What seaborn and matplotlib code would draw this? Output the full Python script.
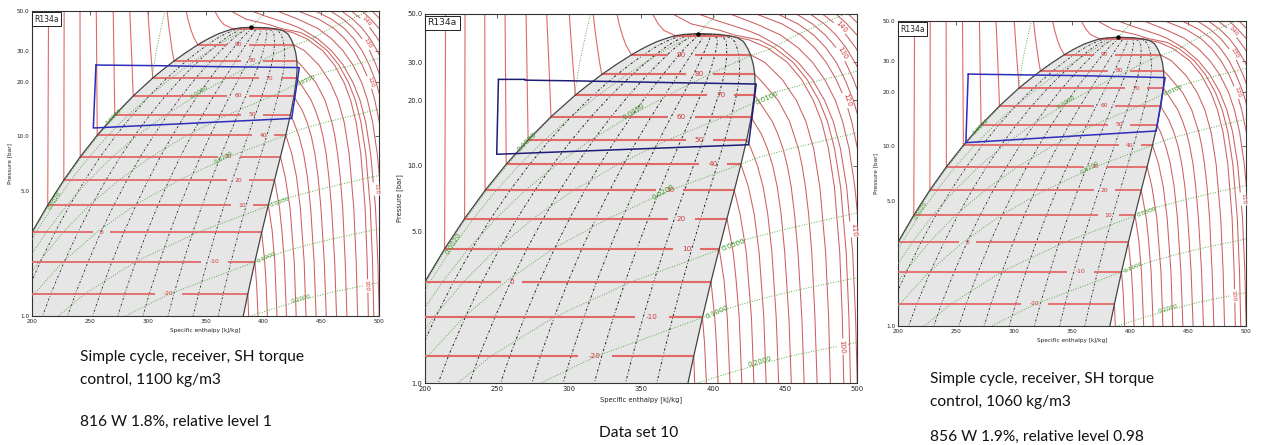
import matplotlib
matplotlib.use("Agg")
import matplotlib.pyplot as plt
import matplotlib.ticker as mticker
import numpy as np
import pandas as pd
import seaborn as sns

sns.set_style("white")
plt.rcParams['font.family'] = ['DejaVu Sans']

# ---------------- data: R134a saturation table ----------------
SAT_T = [-30, -20, -10, 0, 10, 20, 30, 40, 50, 60, 70, 75, 80, 85, 90, 93, 95, 97, 99, 100, 100.7, 101.06]
SAT_P = [0.844, 1.327, 2.006, 2.928, 4.146, 5.717, 7.702, 10.166, 13.18, 16.82, 21.17, 23.65, 26.33, 29.26,
         32.44, 34.5, 35.9, 37.4, 38.9, 39.72, 40.3, 40.59]
SAT_HL = [161.1, 173.6, 186.7, 200.0, 213.6, 227.5, 241.7, 256.4, 271.6, 287.5, 304.4, 313.5, 322.8, 332.8,
          343.4, 350.5, 355.6, 361.5, 369.0, 373.9, 380.5, 389.6]
SAT_HV = [380.3, 386.6, 392.7, 398.6, 404.3, 409.7, 414.8, 419.4, 423.4, 426.6, 428.7, 429.2, 429.0, 428.0,
          426.1, 424.3, 422.8, 421.0, 417.0, 411.0, 403.5, 389.6]
SAT_VL = [0.000720, 0.000736, 0.000755, 0.000772, 0.000794, 0.000817, 0.000843, 0.000873, 0.000908, 0.000951,
          0.001004, 0.001036, 0.001073, 0.001118, 0.001174, 0.001216, 0.001250, 0.001294, 0.001360, 0.001413,
          0.00155, 0.00195]
SAT_VG = [0.2259, 0.1464, 0.0994, 0.0689, 0.0494, 0.0359, 0.0267, 0.0200, 0.0151, 0.0114, 0.00871, 0.00763,
          0.00665, 0.00577, 0.00496, 0.00450, 0.00420, 0.00386, 0.00345, 0.00318, 0.00265, 0.00195]

QUALITIES = [0.1, 0.2, 0.3, 0.4, 0.5, 0.6, 0.7, 0.8, 0.9]
DOME_T = [-20, -10, 0, 10, 20, 30, 40, 50, 60, 70, 80, 90, 100]

# isotherms in the liquid region (pressure [bar], enthalpy [kJ/kg])
LIQ_T = {
    0: ([2.928, 50], [200.0, 200.0]),
    10: ([4.146, 50], [213.6, 214.3]),
    20: ([5.717, 50], [227.5, 227.8]),
    30: ([7.702, 50], [241.7, 241.5]),
    40: ([10.166, 50], [256.4, 255.6]),
    50: ([13.18, 50], [271.6, 270.2]),
    60: ([16.82, 30, 50], [287.5, 286.0, 284.5]),
    70: ([21.17, 30, 40, 50], [304.4, 302.6, 301.2, 300.2]),
    80: ([26.33, 30, 40, 50], [322.8, 321.2, 318.5, 316.8]),
    90: ([32.44, 36, 40, 45, 50], [343.4, 339.5, 337.0, 334.8, 333.3]),
    100: ([39.72, 42, 45, 50], [373.9, 366.0, 362.0, 358.0]),
}
# isotherms in the vapour / supercritical region
VAP_T = {
    -20: ([1.327, 1.0, 0.9], [386.6, 387.3, 387.6]),
    -10: ([2.006, 1.5, 1.0, 0.9], [392.7, 394.2, 395.4, 395.6]),
    0: ([2.928, 2.0, 1.5, 1.0, 0.9], [398.6, 401.2, 402.4, 403.5, 403.7]),
    10: ([4.146, 3.0, 2.0, 1.0, 0.9], [404.3, 407.6, 409.9, 411.8, 412.0]),
    20: ([5.717, 4.0, 3.0, 2.0, 1.0, 0.9], [409.7, 414.0, 416.0, 418.2, 420.0, 420.2]),
    30: ([7.702, 6.0, 4.0, 2.0, 1.0, 0.9], [414.8, 418.8, 423.1, 426.7, 428.4, 428.6]),
    40: ([10.166, 8.0, 6.0, 4.0, 2.0, 1.0, 0.9], [419.4, 424.6, 428.6, 432.0, 435.3, 436.9, 437.1]),
    50: ([13.18, 12, 10, 8, 6, 4, 2, 1, 0.9], [423.4, 426.4, 430.9, 434.8, 438.0, 440.9, 443.9, 445.6, 445.8]),
    60: ([16.82, 16, 14, 12, 10, 8, 6, 4, 2, 1, 0.9],
         [426.6, 428.2, 433.6, 437.8, 441.5, 444.6, 447.3, 449.8, 452.7, 454.4, 454.6]),
    70: ([21.17, 20, 16, 14, 12, 10, 8, 6, 4, 2, 1, 0.9],
         [428.7, 431.5, 441.2, 445.0, 448.6, 451.6, 454.3, 456.6, 459.0, 461.7, 463.3, 463.5]),
    80: ([26.33, 25, 20, 16, 12, 10, 8, 6, 4, 2, 1, 0.9],
         [429.0, 432.5, 445.3, 453.2, 459.3, 461.9, 464.2, 466.4, 468.6, 470.8, 472.3, 472.5]),
    90: ([32.44, 30, 25, 20, 16, 12, 8, 4, 2, 1, 0.9],
         [426.1, 435.8, 448.0, 457.9, 464.5, 469.9, 474.2, 478.2, 480.3, 481.5, 481.7]),
    100: ([39.72, 38, 35, 30, 25, 20, 16, 12, 8, 4, 2, 1, 0.9],
          [411.0, 425.0, 437.5, 451.5, 461.5, 469.7, 475.4, 480.2, 484.3, 488.0, 489.8, 490.8, 491.0]),
    105: ([50, 45, 42, 40, 38, 35, 30, 25, 20, 16, 12, 8, 4, 2, 1, 0.9],
          [372, 385, 405, 415, 432, 442.5, 455.5, 465.3, 473.6, 479.5, 484.4, 488.6, 492.5, 494.4, 495.5, 495.7]),
    110: ([50, 47, 45, 42, 40, 37, 35, 30, 25, 20, 16, 12, 8, 4, 2, 1, 0.9],
          [390, 401, 410, 424, 432, 441, 447, 459, 469, 477.5, 483.5, 488.5, 492.8, 497.0, 499.0, 500.2, 500.4]),
    115: ([50, 45, 40, 35, 30, 25, 20, 16, 12, 8, 5],
          [412, 430, 447, 459, 469, 477.5, 485, 490, 494.5, 498.5, 501.5]),
    120: ([50, 45, 40, 35, 30, 25, 20, 16, 12, 10], [430, 448, 461, 470.5, 478.5, 485.5, 492, 496.3, 500.3, 502.3]),
    125: ([50, 45, 40, 35, 30, 25, 20, 16], [445, 459, 470, 478.3, 485.5, 491.6, 497.5, 501.7]),
    130: ([50, 45, 40, 35, 30, 25, 20], [458, 469, 478, 485.5, 492, 497.5, 503]),
    135: ([50, 45, 40, 35, 30, 27], [467.5, 477.3, 485.5, 492.3, 498.5, 502]),
    140: ([50, 45, 40, 35, 30], [476, 485, 492.5, 499, 505]),
    145: ([50, 45, 40, 38], [485.3, 493, 500, 503]),
    150: ([50, 45, 40], [494, 501, 507]),
}
# isochores outside the dome (v [m3/kg]: pressures, enthalpies)
ISOCHORES = [0.001, 0.002, 0.005, 0.01, 0.02, 0.05, 0.1, 0.2]
ISO_OUT = {
    0.001: ([21.0, 30, 40, 50], [303.7, 307.5, 311.5, 315.0]),
    0.002: ([40.59, 45, 50], [389.6, 396.0, 402.7]),
    0.005: ([32.2, 34, 36, 40, 45, 50], [426.3, 437, 445, 458, 475, 492]),
    0.01: ([19.5, 20, 21, 22, 24, 26, 27.6], [428, 431.5, 437, 445, 466, 488, 503]),
    0.02: ([10.17, 10.5, 11, 12, 13, 14, 14.4], [419.4, 424.5, 433, 454, 476, 496, 503]),
    0.05: ([4.1, 4.3, 4.6, 5.0, 5.4, 5.8, 6.1], [404, 408.5, 424, 445, 466, 486.5, 502]),
    0.1: ([2.0, 2.1, 2.3, 2.5, 2.7, 2.9, 3.1], [392.7, 401, 419.5, 439.7, 461, 483, 505]),
    0.2: ([0.96, 1.0, 1.1, 1.23, 1.35, 1.5, 1.56], [382.2, 389, 409, 434, 458, 492, 505]),
}
CRIT_H, CRIT_P = 389.6, 40.59

# label positions (enthalpy) of the isotherm labels inside the dome
DOME_LABEL_H = {90: 378, 80: 390.5, 70: 405.5, 60: 378, 50: 390.5, 40: 400, 30: 370, 20: 378,
                10: 381.5, 0: 260, -10: 357.5, -20: 318}
VAP_LABELS = [(100, 489, 1.47, -86), (110, 497.5, 5.1, -86), (120, 493, 20.1, -72),
              (130, 490, 33, -60), (140, 489, 43.7, -48)]
ISO_LABELS = [("0.0020", 219.7, 4.39, 58), ("0.0020", 271.0, 12.9, 45), ("0.0050", 344.8, 17.7, 33),
              ("0.0100", 437.4, 20.4, 24), ("0.0200", 365.6, 7.6, 30), ("0.0500", 414.3, 4.31, 20),
              ("0.1000", 402.7, 2.12, 24), ("0.2000", 432.8, 1.25, 16)]

# cycles (enthalpy, pressure) for the three cases
CYC1_H = [255.3, 309.2, 358.2, 431.1, 424.5, 253.0, 255.3]
CYC1_P = [25.0, 24.8, 24.5, 24.2, 12.6, 11.15, 25.0]
CYC2_H = [251.0, 269.5, 269.5, 305.4, 379.5, 430.0, 424.7, 249.8, 251.0]
CYC2_P = [25.0, 25.0, 24.8, 24.6, 24.1, 23.8, 12.5, 11.3, 25.0]
CYC3_H = [260.5, 358.4, 430.3, 422.6, 258.5, 260.5]
CYC3_P = [25.3, 24.8, 24.2, 12.2, 10.5, 25.3]

CAPTIONS = [
    ["Simple cycle, receiver, SH torque", "control, 1100 kg/m3", "816 W 1.8%, relative level 1"],
    ["Data set 10"],
    ["Simple cycle, receiver, SH torque", "control, 1060 kg/m3", "856 W 1.9%, relative level 0.98"],
]
YTICKS = [1.0, 5.0, 10.0, 20.0, 30.0, 50.0]
XTICKS = [200, 250, 300, 350, 400, 450, 500]

# ---------------- drawing ----------------
W, H = 1261, 445
fig = plt.figure(figsize=(W / 100, H / 100), dpi=100)

RED_DOME = '#e26868'
RED_THIN = '#cc6060'
RED_TXT = '#d03a3a'
GREEN = '#5aaa4a'
GREEN_TXT = '#3f9a2f'
DOME_FILL = '#e6e6e6'

sat = pd.DataFrame({'T': SAT_T, 'p': SAT_P, 'hl': SAT_HL, 'hv': SAT_HV, 'vl': SAT_VL, 'vg': SAT_VG})


def draw_panel(ax, cyc_h, cyc_p, cyc_color, s):
    ax.set_yscale('log')
    ax.set_xlim(200, 500)
    ax.set_ylim(1.0, 50.0)

    # dome fill
    dome_h = list(sat['hl']) + list(sat['hv'][::-1])
    dome_p = list(sat['p']) + list(sat['p'][::-1])
    ax.fill(dome_h, dome_p, color=DOME_FILL, zorder=1, lw=0)

    # quality lines
    for q in QUALITIES:
        hq = sat['hl'] + q * (sat['hv'] - sat['hl'])
        ax.plot(hq, sat['p'], color='#222222', lw=0.6 * s + 0.1,
                ls=(0, (2.5, 2.0, 0.8, 2.0)), zorder=3)

    # isochores
    for v in ISOCHORES:
        x = (v - sat['vl']) / (sat['vg'] - sat['vl'])
        m = (x >= 0) & (x <= 1)
        hin = list(sat['hl'][m] + x[m] * (sat['hv'][m] - sat['hl'][m]))
        pin = list(sat['p'][m])
        po, ho = ISO_OUT[v]
        if v in (0.001,):
            ax.plot(hin, pin, color=GREEN, lw=0.7, ls=(0, (1, 1.6)), zorder=3)
            ax.plot(ho, po, color=GREEN, lw=0.7, ls=(0, (1, 1.6)), zorder=3)
        else:
            ax.plot(hin + list(ho), pin + list(po), color=GREEN, lw=0.7, ls=(0, (1, 1.6)), zorder=3)

    # isotherms inside dome (with label gaps)
    for t in DOME_T:
        r = sat[sat['T'] == t].iloc[0]
        if t in DOME_LABEL_H:
            lab = str(t)
            hc = DOME_LABEL_H[t]
            half = 2.2 * len(lab) + 5
            ax.plot([r['hl'], hc - half], [r['p'], r['p']], color=RED_DOME, lw=1.3 * s + 0.2, zorder=4,
                    solid_capstyle='butt')
            ax.plot([hc + half, r['hv']], [r['p'], r['p']], color=RED_DOME, lw=1.3 * s + 0.2, zorder=4,
                    solid_capstyle='butt')
            ax.text(hc, r['p'], lab, color=RED_TXT, fontsize=5.2 * s, ha='center', va='center', zorder=6)
        else:
            ax.plot([r['hl'], r['hv']], [r['p'], r['p']], color=RED_DOME, lw=1.3 * s + 0.2, zorder=4)

    # liquid isotherms
    for t, (pp, hh) in LIQ_T.items():
        ax.plot(hh, pp, color=RED_DOME, lw=0.8, zorder=2)
    # vapour / supercritical isotherms
    for t, (pp, hh) in VAP_T.items():
        ax.plot(hh, pp, color=RED_THIN, lw=0.75, zorder=2)
    for t, hx, px, rot in VAP_LABELS:
        ax.text(hx, px, str(t), color=RED_TXT, fontsize=5.2 * s, ha='center', va='center', rotation=rot,
                zorder=6, bbox=dict(boxstyle='square,pad=0.15', fc='white', ec='none'))

    # isochore labels
    for lab, hx, px, rot in ISO_LABELS:
        ax.text(hx, px, lab, color=GREEN_TXT, fontsize=5.0 * s, ha='center', va='center', rotation=rot,
                zorder=6)

    # dome outline
    ax.plot(dome_h, dome_p, color='#444444', lw=0.9, zorder=5)
    ax.plot([CRIT_H], [CRIT_P], marker='o', ms=2.2, color='black', zorder=7)

    # cycle
    cyc = pd.DataFrame({'h': cyc_h, 'p': cyc_p, 'order': range(len(cyc_h))})
    sns.lineplot(data=cyc, x='h', y='p', sort=False, estimator=None, color=cyc_color, lw=1.1,
                 ax=ax, zorder=8, legend=False)

    # R134a box
    ax.text(0.006, 0.988, 'R134a', transform=ax.transAxes, ha='left', va='top', fontsize=6.6 * s,
            color='#222222', zorder=9,
            bbox=dict(boxstyle='square,pad=0.3', fc='white', ec='#222222', lw=0.7))

    ax.set_yticks(YTICKS)
    ax.yaxis.set_major_formatter(mticker.FixedFormatter(['%.1f' % v for v in YTICKS]))
    ax.yaxis.set_minor_locator(mticker.NullLocator())
    ax.set_xticks(XTICKS)
    ax.set_xticklabels([str(v) for v in XTICKS])
    ax.tick_params(axis='both', which='major', direction='in', length=3, width=0.5, top=True, right=True,
                   labelsize=4.9 * s, pad=2, colors='#222222')
    ax.set_xlabel('Specific enthalpy [kJ/kg]', fontsize=4.9 * s, labelpad=3, color='#222222')
    ax.set_ylabel('Pressure [bar]', fontsize=4.9 * s, labelpad=3, color='#222222')
    for sp in ax.spines.values():
        sp.set_color('#333333')
        sp.set_linewidth(0.8)
        sp.set_visible(True)
    ax.grid(False)


PANELS = [(32, 11, 379, 316), (425, 14, 857, 383), (898, 21, 1246, 326)]
CYCLES = [(CYC1_H, CYC1_P, '#2d2dbb'), (CYC2_H, CYC2_P, '#1c1c78'), (CYC3_H, CYC3_P, '#2d2dbb')]
SCALES = [0.84, 1.0, 0.84]

for (x0, y0, x1, y1), (ch, cp, cc), s in zip(PANELS, CYCLES, SCALES):
    ax = fig.add_axes([x0 / W, 1 - y1 / H, (x1 - x0) / W, (y1 - y0) / H])
    draw_panel(ax, ch, cp, cc, s)

# captions
CAP_POS = [(80, [357, 380, 422]), (599, [433]), (930, [379, 402, 437])]
for (cx, ys), lines in zip(CAP_POS, CAPTIONS):
    for yy, line in zip(ys, lines):
        fig.text(cx / W, 1 - yy / H, line, fontsize=11.2, family=['Lato', 'DejaVu Sans'],
                 ha='left', va='center', color='#111111')

fig.savefig('out.png', dpi=100, facecolor='white')
